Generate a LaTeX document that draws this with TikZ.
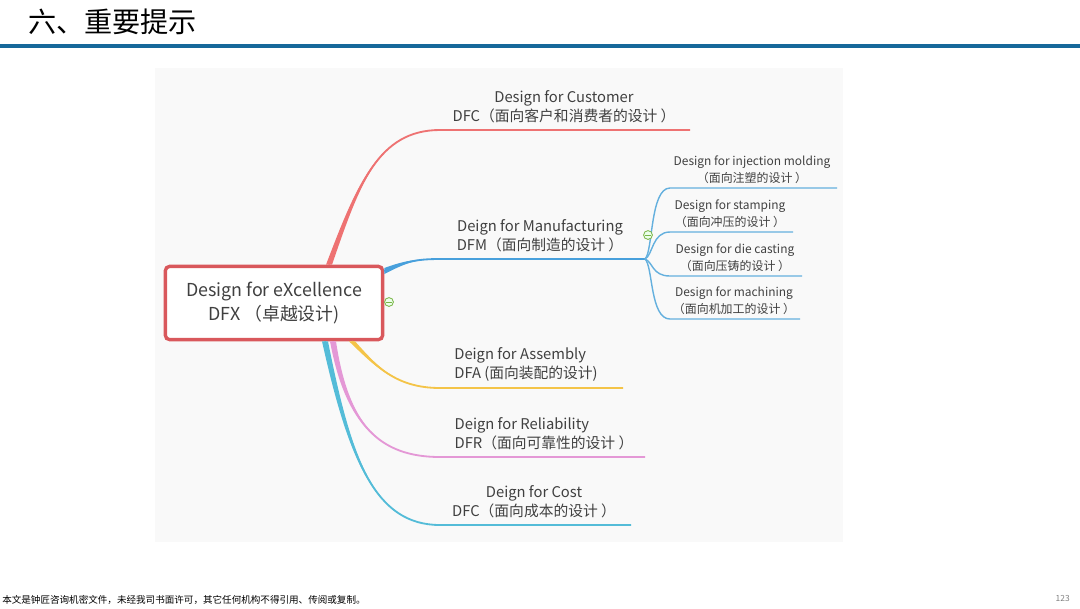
\documentclass[tikz,border=0pt]{standalone}
\usepackage{fontspec}
\setmainfont{Noto Sans CJK SC}
\usetikzlibrary{calc}
\definecolor{barblue}{RGB}{22,104,154}
\definecolor{rootred}{RGB}{217,88,92}
\definecolor{bred}{RGB}{238,114,114}
\definecolor{bblue}{RGB}{72,160,220}
\definecolor{sblue}{RGB}{100,176,222}
\definecolor{byellow}{RGB}{244,196,72}
\definecolor{bpink}{RGB}{228,152,214}
\definecolor{bcyan}{RGB}{84,188,216}
\definecolor{txt}{RGB}{64,64,64}
\definecolor{panel}{RGB}{249,249,249}
\definecolor{foldgreen}{RGB}{122,182,72}
\tikzset{
	root/.style={draw=rootred, line width=2.4pt, rounded corners=3pt, fill=white, minimum width=5.43cm, minimum height=1.83cm, align=center, font=\fontsize{12.7}{16.5}\selectfont},
	lbl/.style={anchor=south, align=center, font=\fontsize{10.5}{13.5}\selectfont},
	lbll/.style={lbl, align=left},
	sublbl/.style={anchor=south, align=center, font=\fontsize{8.5}{12}\selectfont},
	fold/.style={circle, draw=foldgreen, fill=green!8, line width=0.6pt, minimum size=0.22cm,
		path picture={\draw[foldgreen, line width=0.6pt] ([xshift=-2pt]path picture bounding box.center) -- ([xshift=2pt]path picture bounding box.center);}},
	subarm/.style={sblue, line width=1pt},
}
% colour, root, c1, c2, start of line, end of line, half width at root
\newcommand{\drawarm}[7]{%
	\fill[#1] ($(#2)-(#7)$) .. controls ($(#3)-0.5*(#7)$) and (#4) .. (#5) .. controls (#4) and ($(#3)+0.5*(#7)$) .. ($(#2)+(#7)$) -- cycle;
	\draw[#1, line width=1.3pt] (#2) .. controls (#3) and (#4) .. (#5) -- (#6);}
\begin{document}
\begin{tikzpicture}[x=0.025cm, y=-0.025cm, every node/.style={text=txt, inner sep=0pt}]
				\useasboundingbox (0,0) rectangle (1080,608);
				\node[anchor=west, text=black, font=\fontsize{20}{24}\selectfont] (title) at (28,22) {六、重要提示};
				\fill[barblue] (0,43.5) rectangle (1080,47.5);
				\fill[panel] (155,68) rectangle (843,542);
				\node[root] (dfx) at (274,303) {Design for eXcellence\\DFX （卓越设计)};
				% roots on the box
				\coordinate (r1) at ($(dfx.north)+(55,0)$);
				\coordinate (r2) at ($(dfx.east)+(0,-32)$);
				\coordinate (r3) at ($(dfx.south)+(78,0)$);
				\coordinate (r4) at ($(dfx.south)+(59,0)$);
				\coordinate (r5) at ($(dfx.south)+(51,0)$);
				% line ends
				\coordinate (dfc-l) at (440,130); \coordinate (dfc-r) at (690,130);
				\coordinate (dfm-l) at (440,259); \coordinate (dfm-r) at (645,259);
				\coordinate (dfa-l) at (440,388); \coordinate (dfa-r) at (623,388);
				\coordinate (dfr-l) at (440,457); \coordinate (dfr-r) at (645,457);
				\coordinate (cost-l) at (440,525); \coordinate (cost-r) at (631,525);
				\drawarm{bcyan}{r5}{350,460}{375,525}{cost-l}{cost-r}{3,0}
				\drawarm{bpink}{r4}{347,425}{380,457}{dfr-l}{dfr-r}{3,0}
				\drawarm{byellow}{r3}{375,365}{395,388}{dfa-l}{dfa-r}{3,0}
				\drawarm{bred}{r1}{358,185}{378,130}{dfc-l}{dfc-r}{3,0}
				\drawarm{bblue}{r2}{405,262}{415,259}{dfm-l}{dfm-r}{0,3}
				\node[lbl] (dfc) at (564,123.5) {Design for Customer\\DFC（面向客户和消费者的设计 ）};
				\node[lbl] (dfm) at (540,252.5) {Deign for Manufacturing\\DFM（面向制造的设计 ）};
				\node[lbll] (dfa) at (526,381.5) {Deign for Assembly\\DFA (面向装配的设计)};
				\node[lbll] (dfr) at (544,450.5) {Deign for Reliability\\DFR（面向可靠性的设计 ）};
				\node[lbl] (cost) at (534,518.5) {Deign for Cost\\DFC（面向成本的设计 ）};
				% manufacturing sub branches
				\coordinate (im-l) at (670,188); \coordinate (im-r) at (837,188);
				\coordinate (st-l) at (670,232); \coordinate (st-r) at (793,232);
				\coordinate (dc-l) at (670,276); \coordinate (dc-r) at (802,276);
				\coordinate (mc-l) at (670,319); \coordinate (mc-r) at (800,319);
				\draw[subarm] (dfm-r) .. controls (653,252) and (650,188) .. (im-l) -- (im-r);
				\draw[subarm] (dfm-r) .. controls (653,255) and (652,232) .. (st-l) -- (st-r);
				\draw[subarm] (dfm-r) .. controls (653,262) and (652,276) .. (dc-l) -- (dc-r);
				\draw[subarm] (dfm-r) .. controls (653,266) and (650,319) .. (mc-l) -- (mc-r);
				\node[sublbl] (im) at (752,183.6) {Design for injection molding\\（面向注塑的设计 ）};
				\node[sublbl] (st) at (730,227.6) {Design for stamping\\（面向冲压的设计 ）};
				\node[sublbl] (dc) at (735,271.6) {Design for die casting\\（面向压铸的设计 ）};
				\node[sublbl] (mc) at (734,314.6) {Design for machining\\（面向机加工的设计 ）};
				\node[fold] (fx) at (389,302) {};
				\node[fold] (fm) at (648,235) {};
				% footer
				\node[anchor=west, text=black, font=\fontsize{6.8}{8}\selectfont] (note) at (2,600) {本文是钟匠咨询机密文件，未经我司书面许可，其它任何机构不得引用、传阅或复制。};
				\node[anchor=east, text=gray, font=\fontsize{6}{7}\selectfont] (pg) at (1070,598) {123};
\end{tikzpicture}
\end{document}
